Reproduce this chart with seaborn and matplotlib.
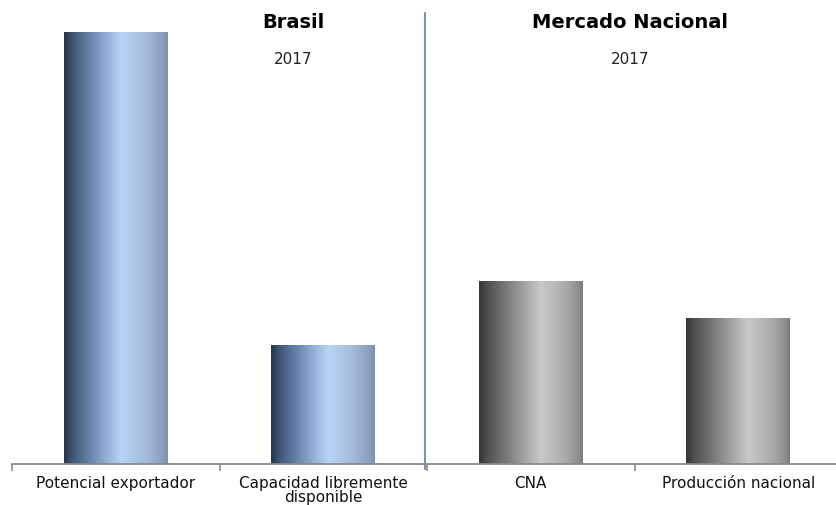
import numpy as np
import pandas as pd
import matplotlib
matplotlib.use("Agg")
import matplotlib.pyplot as plt
from matplotlib.colors import LinearSegmentedColormap
import seaborn as sns

# ---- data ----
categories = ["Potencial exportador", "Capacidad libremente\ndisponible", "CNA", "Producción nacional"]
values = [432, 119, 183, 146]
groups = ["Brasil", "Brasil", "Mercado Nacional", "Mercado Nacional"]
group_titles = ["Brasil", "Mercado Nacional"]
group_years = ["2017", "2017"]

sns.set_style("white")
plt.rcParams["font.family"] = ["DejaVu Sans"]

W, H = 836, 506
fig = plt.figure(figsize=(W / 100, H / 100), dpi=100)
px_per_cat = 207.5
ax_left_px, ax_bottom_px = 12, 41
ax = fig.add_axes([ax_left_px / W, ax_bottom_px / H, (W - ax_left_px) / W, (H - ax_bottom_px) / H])

df = pd.DataFrame({"cat": categories, "val": values, "grp": groups})
sns.barplot(data=df, x="cat", y="val", ax=ax, width=0.5, color="#7f9fc8", saturation=1, edgecolor="none")

xmax = -0.5 + (W - ax_left_px) / px_per_cat
ylim = (0, H - ax_bottom_px)

blue_cmap = LinearSegmentedColormap.from_list(
    "blue", [(0.0, "#24344e"), (0.08, "#3f5574"), (0.3, "#7592bb"), (0.55, "#b9d5f5"),
             (0.8, "#a3bada"), (0.95, "#8c9dbd"), (1.0, "#7d8eae")])
gray_cmap = LinearSegmentedColormap.from_list(
    "gray", [(0.0, "#353535"), (0.08, "#4f4f4f"), (0.3, "#838383"), (0.6, "#c9c9c9"),
             (0.85, "#a8a8a8"), (0.97, "#8a8a8a"), (1.0, "#7a7a7a")])

grad = np.linspace(0, 1, 256).reshape(1, -1)
for patch, grp in zip(ax.patches, groups):
    x0, y0 = patch.get_x(), patch.get_y()
    w, h = patch.get_width(), patch.get_height()
    cmap = blue_cmap if grp == "Brasil" else gray_cmap
    im = ax.imshow(grad, cmap=cmap, aspect="auto", extent=[x0, x0 + w, y0, y0 + h],
                   interpolation="bicubic", zorder=2)
    im.set_clip_path(patch)
    patch.set_facecolor("none")

ax.set_xlim(-0.5, xmax)
ax.set_ylim(*ylim)

# axes styling
for s in ["top", "right", "left"]:
    ax.spines[s].set_visible(False)
ax.spines["bottom"].set_color("#8a8a8a")
ax.spines["bottom"].set_linewidth(1.3)
ax.set_yticks([])
ax.set_xlabel("")
ax.set_ylabel("")
ax.set_xticks(range(len(categories)))
ax.set_xticklabels(categories, fontsize=11, color="#111111", linespacing=0.9)
ax.tick_params(axis="x", which="major", length=0, pad=8, bottom=True)
ax.set_xticks(np.arange(-0.5, xmax, 1.0), minor=True)
ax.tick_params(axis="x", which="minor", length=5, width=1.2, color="#8a8a8a", direction="out", bottom=True)

# divider line
ax.axvline(1.49, ymin=-5 / (H - ax_bottom_px), ymax=(H - ax_bottom_px - 14) / (H - ax_bottom_px),
           color="#8090b0", lw=1.5, clip_on=False, zorder=3)

# group titles
title_x = [293 / W, 630 / W]
for tx, t, yr in zip(title_x, group_titles, group_years):
    fig.text(tx, 1 - 23 / H, t, ha="center", va="center", fontsize=14, fontweight="bold", color="#000000")
    fig.text(tx, 1 - 60 / H, yr, ha="center", va="center", fontsize=11, color="#222222")

fig.savefig("out.png", dpi=100)
